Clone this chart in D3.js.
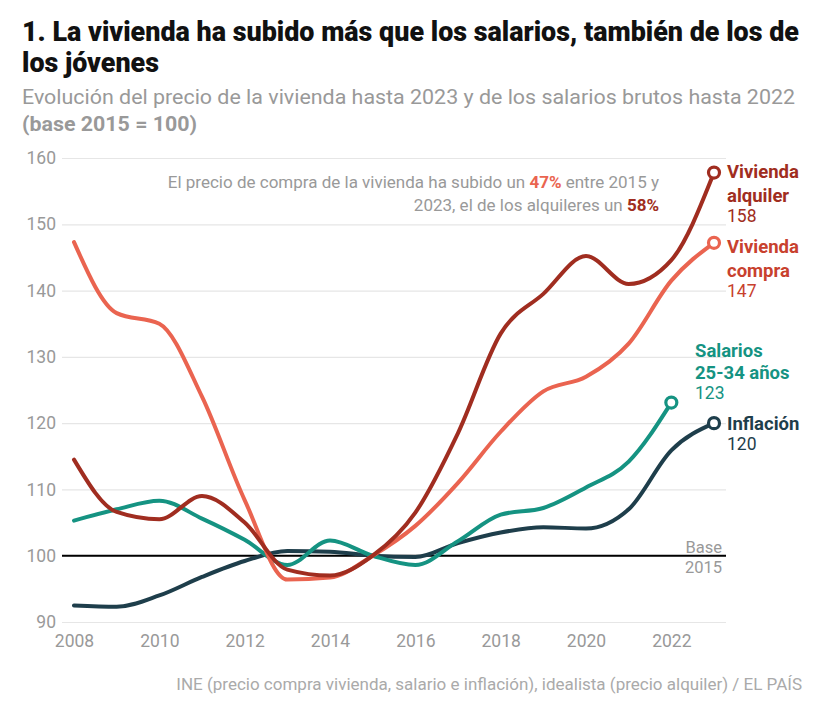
<!DOCTYPE html>
<html><head><meta charset="utf-8">
<script src="https://cdn.jsdelivr.net/npm/d3@7"></script>
<style>
body{margin:0;background:#fff;}
text{font-family:Roboto,"Noto Sans",sans-serif;}
</style></head>
<body>
<svg id="c" width="835" height="706"></svg>
<script>
const years = [2008,2009,2010,2011,2012,2013,2014,2015,2016,2017,2018,2019,2020,2021,2022,2023];
const alquiler = [114.5,106.6,105.5,109,105,97.9,97,100,106.5,118.5,133.5,139.5,145.2,141,144.6,157.8];
const compra = [147.3,136.6,135,124,108.4,96.4,96.7,100,104.5,111,118.7,124.8,127,132,141.5,147.2];
const salarios = [105.3,107,108.3,105.6,102.4,98.6,102.3,100,98.6,102.2,106.2,107.2,110.3,114.2,123.1];
const inflacion = [92.5,92.3,94,96.8,99.2,100.7,100.6,100,99.8,101.9,103.5,104.3,104.1,107,115.9,120];
const yTicks = [90,100,110,120,130,140,150,160];
const xTicks = [2008,2010,2012,2014,2016,2018,2020,2022];

const svg = d3.select("#c");
const x = d3.scaleLinear().domain([2008,2023]).range([74,714]);
const y = d3.scaleLinear().domain([90,160]).range([622,158]);

// title
svg.append("text").attr("x",22).attr("y",41).attr("font-size",27).attr("font-weight",900).attr("fill","#111")
  .attr("textLength",777).attr("lengthAdjust","spacingAndGlyphs")
  .text("1. La vivienda ha subido más que los salarios, también de los de");
svg.append("text").attr("x",22).attr("y",72).attr("font-size",27).attr("font-weight",900).attr("fill","#111")
  .attr("textLength",137).attr("lengthAdjust","spacingAndGlyphs").text("los jóvenes");
svg.append("text").attr("x",22).attr("y",104).attr("font-size",20).attr("fill","#999")
  .attr("textLength",773).attr("lengthAdjust","spacingAndGlyphs")
  .text("Evolución del precio de la vivienda hasta 2023 y de los salarios brutos hasta 2022");
svg.append("text").attr("x",22).attr("y",131).attr("font-size",20).attr("font-weight",700).attr("fill","#999")
  .attr("textLength",175).attr("lengthAdjust","spacingAndGlyphs").text("(base 2015 = 100)");

// grid
const g = svg.append("g");
const yAxis = d3.axisLeft(y).tickValues(yTicks).tickSize(-664).tickPadding(7);
const ya = g.append("g").attr("transform","translate(62,0)").call(yAxis);
ya.select(".domain").remove();
ya.selectAll(".tick line").attr("stroke","#e6e6e6").attr("stroke-width",1.2);
ya.selectAll(".tick text").attr("font-size",17.5).attr("fill","#999").attr("font-family","Roboto").attr("x",-6);

const xAxis = d3.axisBottom(x).tickValues(xTicks).tickFormat(d3.format("d")).tickSize(0).tickPadding(10);
const xa = g.append("g").attr("transform","translate(0,625)").call(xAxis);
xa.select(".domain").remove();
xa.selectAll(".tick text").attr("font-size",17.5).attr("fill","#999").attr("font-family","Roboto");

// base line
g.append("line").attr("x1",62).attr("x2",726).attr("y1",y(100)).attr("y2",y(100)).attr("stroke","#000").attr("stroke-width",2);
g.append("text").attr("x",722).attr("y",553).attr("text-anchor","end").attr("font-size",16.5).attr("fill","#999").text("Base");
g.append("text").attr("x",722).attr("y",573).attr("text-anchor","end").attr("font-size",16.5).attr("fill","#999").text("2015");

const series = [
  {vals:inflacion, color:"#1e3e4b"},
  {vals:salarios, color:"#159382"},
  {vals:compra, color:"#ea6450"},
  {vals:alquiler, color:"#a02d20"}
];
const line = d3.line().x((d,i)=>x(years[i])).y(d=>y(d)).curve(d3.curveMonotoneX);
series.forEach(s=>{
  g.append("path").attr("d",line(s.vals)).attr("fill","none").attr("stroke",s.color).attr("stroke-width",4).attr("stroke-linecap","round");
  const n=s.vals.length-1;
  g.append("circle").attr("cx",x(years[n])).attr("cy",y(s.vals[n])).attr("r",5.5).attr("fill","#fff").attr("stroke",s.color).attr("stroke-width",3.2);
});

// labels
function lab(xp, yp, txt, color, bold){
  svg.append("text").attr("x",xp).attr("y",yp).attr("font-size",bold?18.5:17.5).attr("font-weight",bold?700:400).attr("fill",color).text(txt);
}
lab(727,178,"Vivienda","#a02d20",true);
lab(727,202,"alquiler","#a02d20",true);
lab(727,222,"158","#a02d20",false);
lab(727,253,"Vivienda","#c8412e",true);
lab(727,277,"compra","#c8412e",true);
lab(727,297,"147","#c8412e",false);
lab(695,357,"Salarios","#159382",true);
lab(695,379,"25-34 años","#159382",true);
lab(695,399,"123","#159382",false);
lab(727,430,"Inflación","#1e3e4b",true);
lab(727,450,"120","#1e3e4b",false);

// annotation
const a1 = svg.append("text").attr("x",659).attr("y",188).attr("text-anchor","end").attr("font-size",17).attr("fill","#999");
a1.append("tspan").text("El precio de compra de la vivienda ha subido un ");
a1.append("tspan").attr("font-weight",700).attr("fill","#ea6450").text("47%");
a1.append("tspan").text(" entre 2015 y");
const a2 = svg.append("text").attr("x",659).attr("y",211).attr("text-anchor","end").attr("font-size",17).attr("fill","#999");
a2.append("tspan").text("2023, el de los alquileres un ");
a2.append("tspan").attr("font-weight",700).attr("fill","#a02d20").text("58%");

// footer
svg.append("text").attr("x",802).attr("y",690).attr("text-anchor","end").attr("font-size",17).attr("fill","#aaa")
  .text("INE (precio compra vivienda, salario e inflación), idealista (precio alquiler) / EL PAÍS");
</script>
</body></html>
